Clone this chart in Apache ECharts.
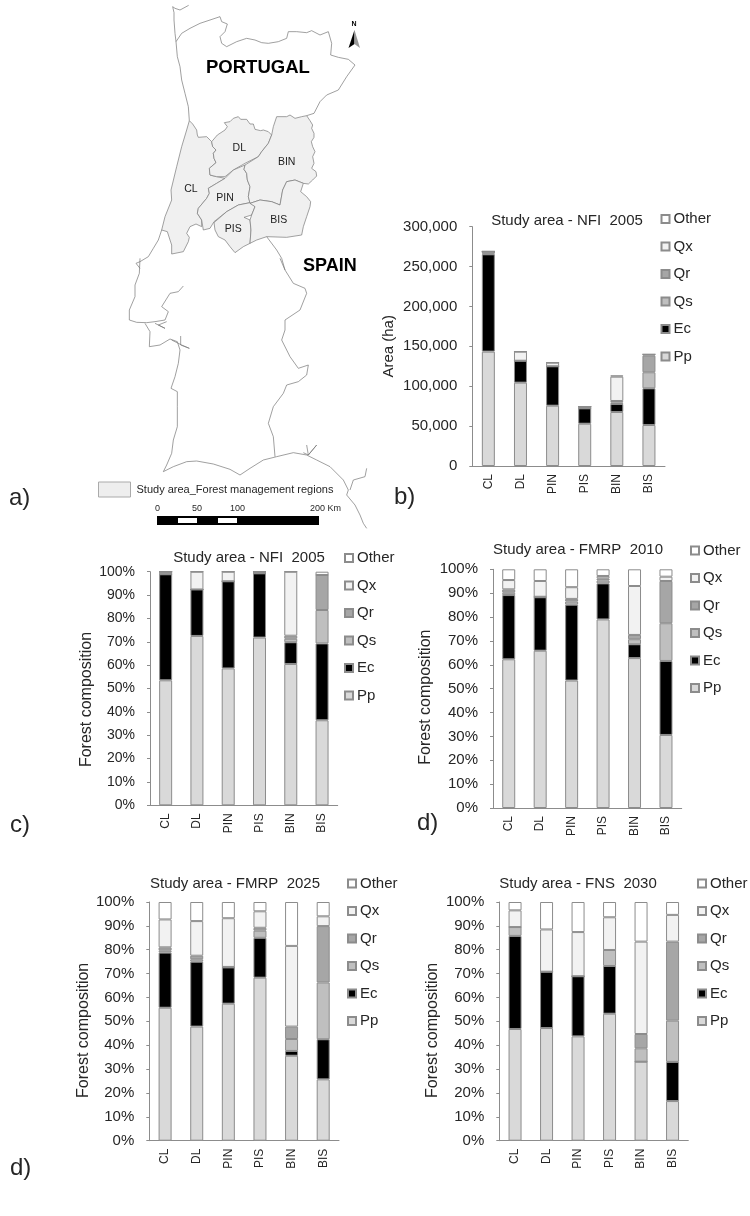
<!DOCTYPE html>
<html>
<head>
<meta charset="utf-8">
<style>
  html, body { margin: 0; background: #fff; }
  #main { width: 750px; height: 1216px; }
</style>
<script src="https://cdn.jsdelivr.net/npm/echarts@6/dist/echarts.min.js"></script>
</head>
<body>
<div id="main"></div>
<script>
const regions = ['CL', 'DL', 'PIN', 'PIS', 'BIN', 'BIS'];
const speciesNames = ['Pp', 'Ec', 'Qs', 'Qr', 'Qx', 'Other'];
const speciesColors = ['#d9d9d9', '#000000', '#bfbfbf', '#a6a6a6', '#f2f2f2', '#ffffff'];

// b) area in ha, NFI 2005
const areaPp = [143400, 104500, 75600, 53000, 67700, 51400];
const areaEc = [122000, 27500, 49400, 19300, 10000, 46000];
const areaQs = [1000, 0, 0, 0, 1800, 20100];
const areaQr = [2600, 0, 0, 2100, 2000, 20900];
const areaQx = [0, 11400, 4600, 0, 30500, 1600];
const areaOther = [0, 0, 0, 0, 1700, 0];

// c) composition %, NFI 2005
const nfiPp = [53.5, 72.5, 58.6, 71.8, 60.5, 36.4];
const nfiEc = [45.4, 19.9, 37.3, 27.5, 9.3, 32.9];
const nfiQs = [0, 0, 0, 0, 1.5, 14.3];
const nfiQr = [1.1, 0, 0, 0.7, 1.3, 15];
const nfiQx = [0, 7.6, 4.1, 0, 27.4, 0];
const nfiOther = [0, 0, 0, 0, 0, 1.4];

// d) composition %, FMRP 2010
const fmrp10Pp = [62.3, 65.9, 53.4, 79, 62.8, 30.6];
const fmrp10Ec = [26.9, 22.4, 31.8, 15.1, 5.8, 31];
const fmrp10Qs = [1, 0.1, 1.3, 1.2, 2.1, 15.8];
const fmrp10Qr = [1.4, 0.1, 1.1, 0.9, 1.8, 17.7];
const fmrp10Qx = [3.9, 6.6, 4.9, 1, 20.5, 1.8];
const fmrp10Other = [4.5, 4.9, 7.5, 2.8, 7, 3.1];

// composition %, FMRP 2025
const fmrp25Pp = [55.7, 47.8, 57.4, 68.3, 35.6, 25.7];
const fmrp25Ec = [23.1, 27.2, 15.2, 16.7, 2, 16.8];
const fmrp25Qs = [0.8, 1, 0.1, 3, 5, 23.8];
const fmrp25Qr = [1.4, 1.5, 0.1, 1.2, 5.2, 23.6];
const fmrp25Qx = [11.7, 14.5, 20.4, 6.9, 33.8, 4.1];
const fmrp25Other = [7.3, 8, 6.8, 3.9, 18.4, 6];

// composition %, FNS 2030
const fnsPp = [46.8, 47.2, 43.7, 53.2, 33.1, 16.6];
const fnsEc = [39, 23.6, 25.2, 20, 0, 16.4];
const fnsQs = [3.7, 0, 0, 6.7, 5.6, 17.3];
const fnsQr = [0, 0, 0, 0, 6, 33.1];
const fnsQx = [7, 17.7, 18.5, 13.7, 38.7, 11.2];
const fnsOther = [3.5, 11.5, 12.6, 6.4, 16.6, 5.4];

// map outlines at 3x (north part and south part)
const clShape = [[298,362],[308,372],[320,390],[322,405],[325,412],[350,410],[365,425],[368,440],[378,450],[370,460],[372,475],[378,488],[358,505],[360,525],[380,530],[405,535],[380,550],[355,565],[358,580],[350,595],[325,625],[322,640],[335,660],[335,680],[318,672],[300,680],[290,700],[298,712],[295,725],[280,755],[245,762],[245,735],[240,720],[232,695],[215,690],[225,650],[245,600],[243,570],[260,500],[275,440],[290,390]];
const dlShape = [[365,425],[382,405],[405,390],[412,380],[403,368],[420,365],[430,355],[445,350],[452,358],[470,358],[480,372],[490,372],[495,388],[512,392],[520,390],[535,395],[545,405],[535,430],[515,455],[505,470],[465,490],[430,510],[405,530],[380,530],[360,525],[358,505],[378,488],[372,475],[370,460],[378,450],[368,440]];
const pinShape = [[405,535],[430,510],[465,495],[462,508],[470,520],[472,540],[480,560],[475,590],[480,608],[445,615],[410,635],[372,665],[360,685],[340,690],[335,660],[322,640],[325,625],[350,595],[358,580],[355,565],[380,550]];
const pisShape = [[372,668],[410,635],[445,615],[480,608],[495,620],[485,645],[462,652],[480,660],[483,690],[480,730],[460,740],[435,758],[420,740],[405,720],[385,710],[375,690]];
const binShape = [[545,405],[550,380],[560,350],[590,350],[600,345],[615,355],[635,350],[650,347],[660,362],[668,375],[665,385],[672,400],[672,412],[664,425],[668,440],[675,455],[668,470],[672,490],[665,505],[678,515],[680,528],[668,540],[655,552],[640,550],[615,540],[590,545],[578,570],[570,615],[545,605],[510,600],[480,610],[475,590],[480,560],[472,540],[470,520],[462,508],[465,495],[505,470],[515,455],[535,430]];
const bisShape = [[480,610],[510,600],[545,605],[570,615],[578,570],[590,545],[615,540],[640,550],[632,575],[650,590],[662,605],[660,620],[650,650],[640,680],[635,705],[590,712],[530,710],[500,720],[480,730],[483,690],[480,660],[485,645],[495,620]];
const northCoast = [[296,16],[270,30],[255,25],[248,20],[252,38],[252,60],[255,100],[258,125],[262,170],[270,200],[275,240],[285,280],[295,320],[298,362]];
const northBorder = [[258,125],[275,100],[300,85],[330,70],[360,60],[390,50],[395,65],[412,72],[405,95],[390,110],[395,130],[410,140],[440,125],[470,115],[495,120],[515,128],[535,130],[565,125],[590,115],[595,95],[620,95],[650,98],[665,92],[690,105],[715,95],[725,130],[722,165],[745,172],[775,178],[795,195],[770,230],[745,270],[710,285],[690,305],[672,340],[650,347]];
const midCoast = [[215,690],[205,720],[190,745],[175,770],[150,785],[138,790],[150,805]];
const eastBorderTop = [[530,710],[560,750],[575,775],[585,810]];
const westCoast = [[150,-5],[148,40],[135,75],[135,110],[118,150],[118,180],[140,187],[170,188],[195,185],[225,180],[235,155],[215,140],[240,100],[265,95],[280,78]];
const tagusBits = [[195,190],[225,205],[205,195],[230,185]];
const southCoast = [[165,190],[180,215],[178,260],[210,255],[240,237],[262,245],[270,270],[265,310],[255,350],[243,385],[262,395],[262,440],[262,500],[250,540],[245,580],[230,615],[220,635],[250,620],[290,605],[320,603],[370,612],[420,628],[450,645],[480,625],[520,600],[560,590],[610,578],[650,585],[680,600],[720,620],[760,660],[775,690],[770,705],[795,735],[810,765],[820,790],[830,805]];
const sadoBits = [[245,240],[275,255],[298,265],[272,255],[272,228]];
const eastBorder = [[570,-5],[585,30],[610,70],[645,85],[650,100],[630,150],[585,180],[585,210],[575,240],[600,290],[625,325],[655,315],[650,345],[625,365],[590,375],[580,400],[550,440],[535,490],[550,530],[555,590]];
const guadianaBits = [[650,555],[655,585],[680,555],[655,585],[640,578]];
const spainBits = [[780,690],[790,660],[825,650],[830,625]];

const north = p => [90 + p[0] / 3, p[1] / 3];
const south = p => [90 + p[0] / 3, 260 + p[1] / 3];

function regionFeature(name, shape, labelAt) {
  const ring = shape.map(north);
  ring.push(ring[0]);
  return {
    type: 'Feature',
    properties: { name: name, cp: north(labelAt) },
    geometry: { type: 'Polygon', coordinates: [ring] }
  };
}

const portugalGeo = {
  type: 'FeatureCollection',
  features: [
    regionFeature('CL', clShape, [303, 567]),
    regionFeature('DL', dlShape, [448, 444]),
    regionFeature('PIN', pinShape, [405, 595]),
    regionFeature('PIS', pisShape, [430, 688]),
    regionFeature('BIN', binShape, [590, 487]),
    regionFeature('BIS', bisShape, [566, 661]),
    {
      type: 'Feature',
      properties: { name: 'outline' },
      geometry: {
        type: 'MultiLineString',
        coordinates: [
          northCoast.map(north), northBorder.map(north), midCoast.map(north), eastBorderTop.map(north),
          westCoast.map(south), tagusBits.map(south), southCoast.map(south), sadoBits.map(south),
          eastBorder.map(south), guadianaBits.map(south), spainBits.map(south)
        ]
      }
    }
  ]
};
echarts.registerMap('portugal', portugalGeo);

const font = '"Liberation Sans", Arial, sans-serif';
const textColor = '#262626';
const axisColor = '#8c8c8c';

const panels = [
  { title: 'Study area - NFI  2005', left: 472.3, right: 665, top: 226.7, bottom: 466, titleX: 567, titleY: 221,
    max: 300000, interval: 50000, name: 'Area (ha)', nameGap: 76, nameShift: 0, labelSize: 15, legendX: 660.5, legendY: 210.5,
    data: [areaPp, areaEc, areaQs, areaQr, areaQx, areaOther] },
  { title: 'Study area - NFI  2005', left: 150, right: 337.7, top: 571.7, bottom: 805.3, titleX: 249, titleY: 558,
    max: 100, interval: 10, name: 'Forest composition', nameGap: 55, nameShift: 22, labelSize: 14, legendX: 344, legendY: 549.5,
    data: [nfiPp, nfiEc, nfiQs, nfiQr, nfiQx, nfiOther] },
  { title: 'Study area - FMRP  2010', left: 493, right: 681.7, top: 569.3, bottom: 808, titleX: 578, titleY: 550,
    max: 100, interval: 10, name: 'Forest composition', nameGap: 59, nameShift: 17, labelSize: 15, legendX: 690, legendY: 542,
    data: [fmrp10Pp, fmrp10Ec, fmrp10Qs, fmrp10Qr, fmrp10Qx, fmrp10Other] },
  { title: 'Study area - FMRP  2025', left: 149.3, right: 339, top: 902, bottom: 1140.7, titleX: 235, titleY: 884,
    max: 100, interval: 10, name: 'Forest composition', nameGap: 58, nameShift: 18, labelSize: 15, legendX: 347, legendY: 875,
    data: [fmrp25Pp, fmrp25Ec, fmrp25Qs, fmrp25Qr, fmrp25Qx, fmrp25Other] },
  { title: 'Study area - FNS  2030', left: 499.3, right: 688.3, top: 902, bottom: 1140.7, titleX: 578, titleY: 884,
    max: 100, interval: 10, name: 'Forest composition', nameGap: 59, nameShift: 18, labelSize: 15, legendX: 697, legendY: 875,
    data: [fnsPp, fnsEc, fnsQs, fnsQr, fnsQx, fnsOther] }
];

const option = {
  backgroundColor: '#fff',
  animation: false,
  textStyle: { fontFamily: font, color: textColor },
  geo: {
    map: 'portugal',
    roam: false,
    silent: true,
    left: 0, top: 0, width: 750, height: 1216,
    boundingCoords: [[0, 0], [750, 1216]],
    projection: { project: p => p, unproject: p => p },
    itemStyle: { areaColor: '#f0f0f0', borderColor: '#7a7a7a', borderWidth: 0.7 },
    label: { show: true, fontSize: 10.5, color: '#222', fontFamily: font },
    regions: [{ name: 'outline', label: { show: false }, itemStyle: { areaColor: 'none', borderColor: '#777777' } }]
  },
  title: panels.map(p => ({
    text: p.title, left: p.titleX, top: p.titleY, padding: 0, textAlign: 'center', textVerticalAlign: 'middle',
    textStyle: { fontFamily: font, fontSize: 15, fontWeight: 'normal', color: textColor }
  })),
  legend: panels.map(p => ({
    data: speciesNames.slice().reverse(),
    left: p.legendX, top: p.legendY, orient: 'vertical', icon: 'rect', selectedMode: false,
    itemWidth: 8, itemHeight: 8, itemGap: 10.5, padding: 0,
    textStyle: { fontFamily: font, fontSize: 15, color: textColor, padding: [0, 0, 0, -1], lineHeight: 17 }
  })),
  grid: panels.map(p => ({ left: p.left, top: p.top, width: p.right - p.left, height: p.bottom - p.top })),
  xAxis: panels.map((p, i) => ({
    type: 'category', gridIndex: i, data: regions,
    axisLine: { lineStyle: { color: axisColor } },
    axisTick: { length: 3, lineStyle: { color: axisColor } },
    axisLabel: { rotate: 90, fontSize: 12, margin: 8, color: textColor, fontFamily: font, interval: 0 }
  })),
  yAxis: panels.map((p, i) => ({
    type: 'value', gridIndex: i, min: 0, max: p.max, interval: p.interval,
    name: p.name, nameLocation: 'middle', nameGap: p.nameGap, nameMoveOverlap: false,
    nameTextStyle: { fontFamily: font, fontSize: i === 0 ? 15 : 16, color: textColor, padding: [0, p.nameShift, 0, 0] },
    splitLine: { show: false },
    axisLine: { show: true, lineStyle: { color: axisColor } },
    axisTick: { show: true, length: 3, lineStyle: { color: axisColor } },
    axisLabel: {
      fontSize: p.labelSize, margin: 15, color: textColor, fontFamily: font,
      formatter: v => p.max === 100 ? v + '%' : v.toLocaleString('en-US')
    }
  })),
  series: panels.flatMap((p, i) => speciesNames.map((s, k) => ({
    name: s, type: 'bar', stack: 'p' + i, xAxisIndex: i, yAxisIndex: i,
    barWidth: 13, data: p.data[k],
    itemStyle: { color: speciesColors[k], borderColor: axisColor, borderWidth: 1 }
  }))),
  graphic: [
    { type: 'text', left: 9, top: 486, style: { text: 'a)', font: '24px ' + font, fill: textColor } },
    { type: 'text', left: 394, top: 485, style: { text: 'b)', font: '24px ' + font, fill: textColor } },
    { type: 'text', left: 10, top: 813, style: { text: 'c)', font: '24px ' + font, fill: textColor } },
    { type: 'text', left: 417, top: 811, style: { text: 'd)', font: '24px ' + font, fill: textColor } },
    { type: 'text', left: 10, top: 1156, style: { text: 'd)', font: '24px ' + font, fill: textColor } },
    { type: 'text', left: 206, top: 58, style: { text: 'PORTUGAL', font: 'bold 18.5px ' + font, fill: '#000' } },
    { type: 'text', left: 303, top: 257, style: { text: 'SPAIN', font: 'bold 18px ' + font, fill: '#000' } },
    { type: 'text', left: 351.5, top: 21, style: { text: 'N', font: 'bold 7px ' + font, fill: '#000' } },
    { type: 'polygon', shape: { points: [[348.5, 48], [354.5, 30], [354.5, 44]] }, style: { fill: '#000' } },
    { type: 'polygon', shape: { points: [[360, 48], [354.5, 30], [354.5, 44]] }, style: { fill: '#999' } },
    { type: 'rect', shape: { x: 98.5, y: 482, width: 32, height: 15 }, style: { fill: '#eeeeee', stroke: '#aaaaaa' } },
    { type: 'text', left: 136.5, top: 484, style: { text: 'Study area_Forest management regions', font: '11px ' + font, fill: textColor } },
    { type: 'rect', shape: { x: 157, y: 516, width: 162, height: 9 }, style: { fill: '#000' } },
    { type: 'rect', shape: { x: 178, y: 518, width: 19, height: 5 }, style: { fill: '#fff' } },
    { type: 'rect', shape: { x: 218, y: 518, width: 19, height: 5 }, style: { fill: '#fff' } },
    { type: 'text', left: 155, top: 504, style: { text: '0', font: '9px ' + font, fill: textColor } },
    { type: 'text', left: 192, top: 504, style: { text: '50', font: '9px ' + font, fill: textColor } },
    { type: 'text', left: 230, top: 504, style: { text: '100', font: '9px ' + font, fill: textColor } },
    { type: 'text', left: 310, top: 504, style: { text: '200 Km', font: '9px ' + font, fill: textColor } }
  ]
};

const chart = echarts.init(document.getElementById('main'));
chart.setOption(option);
window.addEventListener('resize', () => chart.resize());
</script>
</body>
</html>
